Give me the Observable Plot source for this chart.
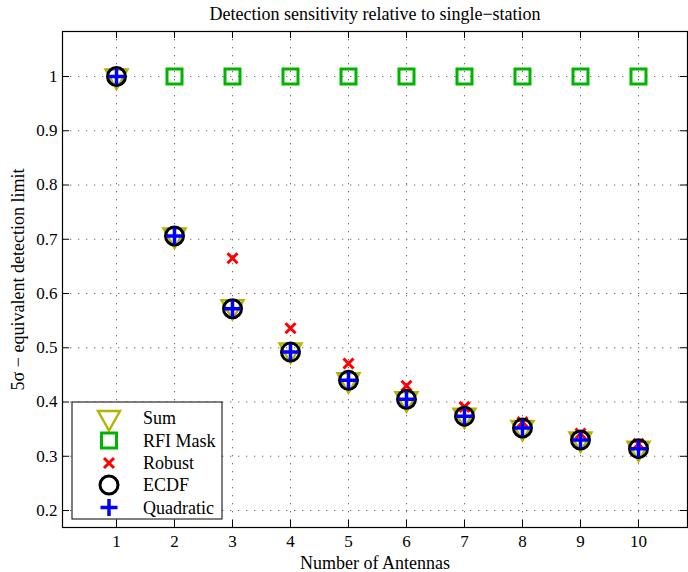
<!DOCTYPE html>
<html><head><meta charset="utf-8">
<script src="https://cdn.jsdelivr.net/npm/d3@7"></script>
<script src="https://cdn.jsdelivr.net/npm/@observablehq/plot@0.6"></script>
<style>body{margin:0;background:#fff} svg{display:block}</style>
</head><body><div id="chart"></div>
<script>
const antennas = [1, 2, 3, 4, 5, 6, 7, 8, 9, 10];
const sumVals = [1, 0.707, 0.575, 0.495, 0.440, 0.405, 0.375, 0.352, 0.331, 0.314];
const rfiVals = [null, 1, 1, 1, 1, 1, 1, 1, 1, 1];
const robustVals = [null, null, 0.665, 0.536, 0.471, 0.430, 0.391, 0.363, 0.342, 0.323];
const ecdfVals = [1, 0.706, 0.572, 0.492, 0.440, 0.405, 0.374, 0.352, 0.330, 0.314];
const quadVals = [1, 0.706, 0.572, 0.492, 0.440, 0.405, 0.374, 0.352, 0.330, 0.314];
const xTicks = [1, 2, 3, 4, 5, 6, 7, 8, 9, 10];
const yTicks = [0.2, 0.3, 0.4, 0.5, 0.6, 0.7, 0.8, 0.9, 1];
const seriesNames = ["Sum", "RFI Mask", "Robust", "ECDF", "Quadratic"];
const titleText = "Detection sensitivity relative to single\u2212station";
const xLabel = "Number of Antennas";
const yLabel = "5\u03c3 \u2212 equivalent detection limit";

const W = 688, H = 572, mL = 62, mR = 1, mT = 31, mB = 45;
const plotW = W - mL - mR, plotH = H - mT - mB;
const FONT = "Liberation Serif, Times New Roman, serif";

// custom marker shapes (size = r^2*pi, s = r/10)
function sc(size) { return Math.sqrt(size / Math.PI) / 10; }
const triDown = {draw(c, size) { const s = sc(size); c.moveTo(-11*s, -7*s); c.lineTo(11*s, -7*s); c.lineTo(0, 12.5*s); c.closePath(); }};
const square = {draw(c, size) { const s = sc(size); c.moveTo(-7.5*s, -7.5*s); c.lineTo(7.5*s, -7.5*s); c.lineTo(7.5*s, 7.5*s); c.lineTo(-7.5*s, 7.5*s); c.closePath(); }};
const cross = {draw(c, size) { const s = sc(size); c.moveTo(-5*s, -5*s); c.lineTo(5*s, 5*s); c.moveTo(5*s, -5*s); c.lineTo(-5*s, 5*s); }};
const circle = {draw(c, size) { const s = sc(size); c.moveTo(9*s, 0); c.arc(0, 0, 9*s, 0, 2*Math.PI); }};
const plus = {draw(c, size) { const s = sc(size); c.moveTo(-8.5*s, 0); c.lineTo(8.5*s, 0); c.moveTo(0, -8.5*s); c.lineTo(0, 8.5*s); }};

const styles = [
  {symbol: triDown, stroke: "#b4b400", strokeWidth: 2.4},
  {symbol: square, stroke: "#00b400", strokeWidth: 3},
  {symbol: cross, stroke: "#ff0000", strokeWidth: 3},
  {symbol: circle, stroke: "#000000", strokeWidth: 3},
  {symbol: plus, stroke: "#0000ff", strokeWidth: 3.5}
];
const allVals = [sumVals, rfiVals, robustVals, ecdfVals, quadVals];

const dotMarks = allVals.map((vals, k) => Plot.dot(
  antennas.map((x, i) => ({x, y: vals[i]})),
  {x: "x", y: "y", r: 10, fill: "none", ...styles[k]}
));

const chart = Plot.plot({
  width: W, height: H,
  marginLeft: mL, marginRight: mR, marginTop: mT, marginBottom: mB,
  style: {fontFamily: FONT, fontSize: "17px", background: "#fff", color: "#000"},
  x: {domain: [0.069, 10.845]},
  y: {domain: [0.1687, 1.083]},
  marks: [
    Plot.ruleX(xTicks, {x: d => d, stroke: "#6a6a6a", strokeWidth: 1, strokeDasharray: "1.3,6.7"}),
    Plot.ruleY(yTicks, {y: d => d, stroke: "#6a6a6a", strokeWidth: 1, strokeDasharray: "1.3,6.7"}),
    Plot.ruleX(xTicks, {x: d => d, insetTop: plotH - 7, stroke: "#000"}),
    Plot.ruleX(xTicks, {x: d => d, insetBottom: plotH - 7, stroke: "#000"}),
    Plot.ruleY(yTicks, {y: d => d, insetRight: plotW - 7, stroke: "#000"}),
    Plot.ruleY(yTicks, {y: d => d, insetLeft: plotW - 7, stroke: "#000"}),
    Plot.axisX({ticks: xTicks, tickSize: 0, tickPadding: 7, label: null, tickFormat: d => String(d)}),
    Plot.axisY({ticks: yTicks, tickSize: 0, tickPadding: 5, label: null, tickFormat: d => d === 1 ? "1" : d.toFixed(1)}),
    ...dotMarks,
    Plot.frame({stroke: "#000", strokeWidth: 1.2}),
    Plot.text([titleText], {frameAnchor: "top", dy: -17, lineAnchor: "middle", textAnchor: "middle", fontSize: 18, fill: "#000"}),
    Plot.text([xLabel], {frameAnchor: "bottom", dy: 36, lineAnchor: "middle", textAnchor: "middle", fontSize: 18, fill: "#000"}),
    Plot.text([yLabel], {frameAnchor: "left", dx: -44, rotate: -90, lineAnchor: "middle", textAnchor: "middle", fontSize: 18, fill: "#000"})
  ]
});
document.getElementById("chart").appendChild(chart);

// legend
const svg = d3.select(chart);
const lg = svg.append("g").attr("font-family", FONT).attr("font-size", 18).attr("text-anchor", "start");
const box = {x: 72, y: 402, w: 150, h: 117};
lg.append("rect").attr("x", box.x).attr("y", box.y).attr("width", box.w).attr("height", box.h)
  .attr("fill", "#fff").attr("stroke", "#000").attr("stroke-width", 1);
const rowY = [418, 440.5, 463, 485, 507.5];
seriesNames.forEach((name, k) => {
  lg.append("path").attr("transform", `translate(109,${rowY[k]})`)
    .attr("d", d3.symbol(styles[k].symbol, 100 * Math.PI)())
    .attr("fill", "none").attr("stroke", styles[k].stroke).attr("stroke-width", styles[k].strokeWidth);
  lg.append("text").attr("x", 143).attr("y", rowY[k]).attr("dy", "0.35em").attr("fill", "#000").text(name);
});
</script>
</body></html>
